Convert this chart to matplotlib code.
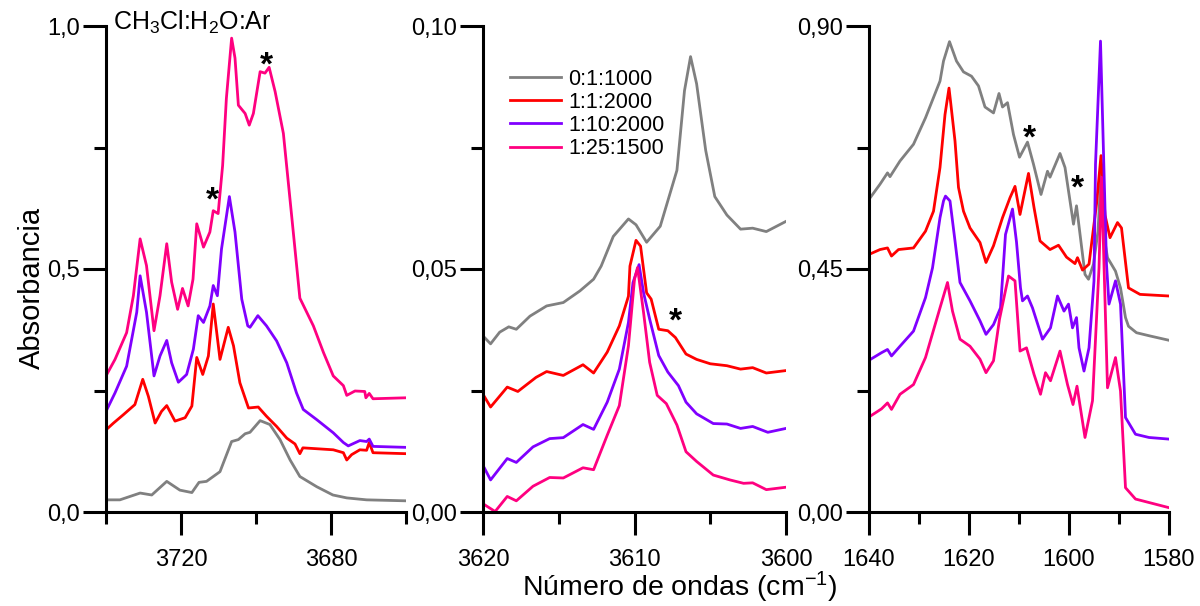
import matplotlib
matplotlib.use("Agg")
import matplotlib.pyplot as plt
from matplotlib.ticker import FixedLocator, FuncFormatter

plt.rcParams['font.family'] = ['Liberation Sans', 'DejaVu Sans']
plt.rcParams['mathtext.fontset'] = 'custom'
plt.rcParams['mathtext.rm'] = 'Liberation Sans'
plt.rcParams['mathtext.default'] = 'regular'

# ---------------- data ----------------
labels = ['0:1:1000', '1:1:2000', '1:10:2000', '1:25:1500']
colors = ['#808080', '#ff0000', '#8000ff', '#ff0080']

# Panel 1 (3740-3660 cm-1)
p1_gray_x = [3740, 3736.3, 3730.9, 3727.8, 3723.8, 3720.3, 3717.1, 3715.2, 3713.2, 3709.6, 3706.5, 3704.7,
             3702.9, 3701.6, 3698.9, 3696.3, 3693.6, 3690.9, 3688.3, 3683.8, 3679.5, 3675.8, 3670.5, 3660]
p1_gray_y = [0.025, 0.025, 0.039, 0.035, 0.063, 0.045, 0.040, 0.061, 0.063, 0.083, 0.145, 0.149,
             0.161, 0.164, 0.188, 0.180, 0.149, 0.107, 0.073, 0.052, 0.035, 0.029, 0.025, 0.023]
p1_red_x = [3740, 3738, 3735.4, 3732.3, 3730.2, 3728.7, 3726.9, 3725.2, 3723.8, 3721.6, 3718.9, 3717.1,
            3715.8, 3714.2, 3712.7, 3711.4, 3709.6, 3707.4, 3706.0, 3704.3, 3702.0, 3699.4, 3697.2,
            3694.5, 3691.8, 3689.6, 3688.3, 3687.5, 3679.4, 3676.7, 3675.8, 3674.5, 3672.3, 3670.5,
            3669.8, 3668.8, 3660]
p1_red_y = [0.169, 0.183, 0.200, 0.221, 0.273, 0.238, 0.183, 0.207, 0.219, 0.187, 0.194, 0.218,
            0.318, 0.283, 0.321, 0.428, 0.314, 0.380, 0.342, 0.266, 0.214, 0.216, 0.197,
            0.176, 0.152, 0.140, 0.120, 0.132, 0.128, 0.122, 0.107, 0.118, 0.128, 0.127,
            0.143, 0.122, 0.120]
p1_pur_x = [3740, 3737.6, 3734.5, 3731.8, 3730.9, 3729.2, 3727.2, 3725.6, 3723.8, 3722.5, 3720.7, 3718.5,
            3716.7, 3715.4, 3714.0, 3712.3, 3711.4, 3710.3, 3709.2, 3707.1, 3705.6, 3703.8, 3702.2,
            3701.6, 3699.5, 3697.2, 3694.5, 3691.8, 3689.2, 3687.4, 3683.8, 3679.4, 3676.7, 3675.4,
            3672.3, 3670.5, 3669.8, 3668.8, 3660]
p1_pur_y = [0.207, 0.245, 0.300, 0.411, 0.486, 0.411, 0.280, 0.321, 0.353, 0.307, 0.267, 0.283,
            0.335, 0.404, 0.390, 0.424, 0.466, 0.445, 0.541, 0.649, 0.576, 0.438, 0.383,
            0.380, 0.404, 0.383, 0.352, 0.307, 0.245, 0.211, 0.190, 0.163, 0.143, 0.136,
            0.147, 0.145, 0.150, 0.135, 0.133]
p1_pink_x = [3740, 3737.6, 3734.5, 3732.7, 3730.9, 3729.2, 3727.2, 3725.6, 3723.8, 3722.5, 3720.9, 3719.6,
             3718.1, 3716.8, 3715.8, 3714.0, 3712.3, 3711.4, 3710.1, 3708.9, 3707.9, 3706.5, 3705.6,
             3704.7, 3702.9, 3701.8, 3700.7, 3698.9, 3697.6, 3696.5, 3694.9, 3692.7, 3690.5, 3688.3,
             3684.7, 3682.0, 3679.4, 3676.7, 3675.8, 3673.6, 3671.0, 3670.7, 3669.8, 3668.8, 3660]
p1_pink_y = [0.280, 0.314, 0.369, 0.445, 0.562, 0.507, 0.373, 0.445, 0.552, 0.473, 0.417, 0.460,
             0.424, 0.479, 0.593, 0.545, 0.576, 0.620, 0.614, 0.713, 0.851, 0.975, 0.934,
             0.837, 0.820, 0.796, 0.820, 0.906, 0.903, 0.915, 0.865, 0.779, 0.610, 0.440,
             0.383, 0.328, 0.280, 0.260, 0.240, 0.249, 0.248, 0.235, 0.244, 0.233, 0.235]

# Panel 2 (3620-3600 cm-1)
p2_gray_x = [3619.9, 3619.5, 3618.9, 3618.3, 3617.8, 3616.9, 3615.8, 3614.7, 3613.6, 3612.7, 3612.2,
             3611.4, 3610.4, 3609.9, 3609.2, 3608.3, 3607.2, 3606.7, 3606.3, 3605.9, 3605.3, 3604.7,
             3603.9, 3603.0, 3602.2, 3601.3, 3600]
p2_gray_y = [0.0359, 0.0346, 0.0370, 0.0381, 0.0376, 0.0403, 0.0424, 0.0431, 0.0455, 0.0479, 0.0506,
             0.0567, 0.0603, 0.0591, 0.0555, 0.0588, 0.0703, 0.0867, 0.0937, 0.0881, 0.0744, 0.0649,
             0.0611, 0.0582, 0.0584, 0.0577, 0.0598]
p2_red_x = [3619.9, 3619.5, 3618.4, 3617.7, 3616.5, 3615.8, 3614.7, 3613.4, 3612.7, 3611.8, 3611.0,
            3610.4, 3610.3, 3609.9, 3609.6, 3609.2, 3608.9, 3608.4, 3607.8, 3607.3, 3606.6, 3605.9,
            3605.0, 3603.9, 3603.0, 3602.2, 3601.3, 3600]
p2_red_y = [0.0237, 0.0216, 0.0257, 0.0248, 0.0277, 0.0289, 0.0281, 0.0303, 0.0286, 0.0329, 0.0383,
            0.0444, 0.0506, 0.0559, 0.0547, 0.0451, 0.0438, 0.0376, 0.0373, 0.0359, 0.0325, 0.0314,
            0.0305, 0.0301, 0.0294, 0.0297, 0.0286, 0.0291]
p2_pur_x = [3619.9, 3619.5, 3618.4, 3617.8, 3616.7, 3615.6, 3614.7, 3613.4, 3612.7, 3611.8, 3611.0,
            3610.4, 3610.1, 3609.7, 3609.4, 3609.0, 3608.4, 3607.8, 3607.1, 3606.6, 3605.9, 3604.8,
            3603.9, 3603.0, 3602.2, 3601.2, 3600]
p2_pur_y = [0.0090, 0.0066, 0.0110, 0.0102, 0.0134, 0.0151, 0.0153, 0.0180, 0.0170, 0.0226, 0.0294,
            0.0390, 0.0472, 0.0509, 0.0451, 0.0397, 0.0322, 0.0288, 0.0260, 0.0226, 0.0202, 0.0182,
            0.0181, 0.0172, 0.0176, 0.0164, 0.0172]
p2_pink_x = [3619.9, 3619.2, 3618.4, 3617.8, 3616.7, 3615.6, 3614.7, 3613.4, 3612.7, 3611.8, 3611.0,
             3610.4, 3610.0, 3609.8, 3609.4, 3609.0, 3608.5, 3607.9, 3607.2, 3606.6, 3605.9, 3604.8,
             3603.7, 3602.8, 3602.2, 3601.3, 3600]
p2_pink_y = [0.0015, 0.0001, 0.0032, 0.0023, 0.0053, 0.0071, 0.0070, 0.0091, 0.0087, 0.0158, 0.0219,
             0.0342, 0.0479, 0.0503, 0.0410, 0.0308, 0.0240, 0.0223, 0.0179, 0.0124, 0.0104, 0.0076,
             0.0066, 0.0059, 0.0060, 0.0046, 0.0051]

# Panel 3 (1640-1580 cm-1)
p3_gray_x = [1640, 1637.8, 1636.3, 1635.8, 1633.8, 1631.1, 1628.7, 1625.8, 1625.1, 1623.9, 1622.5, 1621.1,
             1619.5, 1618.1, 1616.8, 1615.1, 1614.0, 1613.3, 1612.3, 1611.1, 1609.9, 1608.3, 1607.1,
             1605.6, 1604.3, 1603.8, 1601.8, 1600.8, 1599.1, 1598.5, 1596.8, 1596.1, 1595.1, 1594.2,
             1593.5, 1592.8, 1592.3, 1590.7, 1589.7, 1588.7, 1588.1, 1586.5, 1583.8, 1580]
p3_gray_y = [0.579, 0.607, 0.628, 0.621, 0.650, 0.681, 0.730, 0.798, 0.835, 0.871, 0.835, 0.815,
             0.807, 0.789, 0.750, 0.739, 0.775, 0.750, 0.758, 0.699, 0.657, 0.685, 0.644,
             0.588, 0.631, 0.620, 0.664, 0.638, 0.533, 0.567, 0.440, 0.431, 0.459, 0.520,
             0.640, 0.500, 0.471, 0.446, 0.415, 0.360, 0.344, 0.332, 0.326, 0.318]
p3_red_x = [1640, 1637.8, 1636.3, 1635.5, 1634.1, 1631.1, 1628.7, 1627.1, 1625.8, 1624.8, 1624.0,
            1623.7, 1622.8, 1622.1, 1621.1, 1619.8, 1617.8, 1616.6, 1615.1, 1613.3, 1611.8, 1610.8,
            1609.8, 1608.1, 1607.0, 1605.8, 1603.8, 1602.1, 1600.5, 1598.8, 1598.3, 1597.3, 1596.0,
            1594.5, 1593.6, 1592.8, 1591.8, 1590.3, 1589.5, 1588.1, 1585.8, 1580]
p3_red_y = [0.477, 0.486, 0.489, 0.474, 0.486, 0.489, 0.520, 0.557, 0.638, 0.736, 0.785,
            0.761, 0.687, 0.601, 0.557, 0.526, 0.499, 0.462, 0.493, 0.545, 0.582, 0.603,
            0.551, 0.627, 0.564, 0.502, 0.486, 0.494, 0.472, 0.460, 0.471, 0.448, 0.459,
            0.570, 0.660, 0.550, 0.508, 0.536, 0.526, 0.415, 0.403, 0.400]
p3_pur_x = [1640, 1637.5, 1636.3, 1635.5, 1633.8, 1631.1, 1628.7, 1627.3, 1625.8, 1625.1, 1624.7,
            1623.8, 1622.8, 1621.8, 1619.8, 1617.8, 1616.6, 1615.1, 1613.7, 1612.7, 1611.3, 1610.5,
            1609.7, 1609.3, 1608.3, 1607.3, 1605.3, 1603.7, 1602.3, 1601.0, 1600.1, 1599.3, 1598.5,
            1598.0, 1597.0, 1596.0, 1595.0, 1594.7, 1593.7, 1592.5, 1592.0, 1590.7, 1589.7, 1588.7,
            1586.7, 1584.0, 1580]
p3_pur_y = [0.281, 0.295, 0.301, 0.289, 0.307, 0.335, 0.397, 0.452, 0.545, 0.576, 0.585,
            0.576, 0.502, 0.425, 0.391, 0.354, 0.329, 0.347, 0.378, 0.514, 0.561, 0.500,
            0.415, 0.391, 0.400, 0.378, 0.320, 0.341, 0.400, 0.372, 0.385, 0.341, 0.360,
            0.304, 0.261, 0.304, 0.428, 0.644, 0.872, 0.459, 0.385, 0.428, 0.385, 0.175,
            0.144, 0.138, 0.135]
p3_pink_x = [1640, 1637.5, 1636.3, 1635.5, 1633.8, 1631.1, 1628.7, 1625.8, 1624.3, 1623.3, 1621.8, 1619.8,
             1617.8, 1616.6, 1615.1, 1613.9, 1612.1, 1610.8, 1609.8, 1608.5, 1607.0, 1605.7, 1604.7,
             1603.7, 1601.8, 1600.3, 1599.2, 1598.4, 1596.8, 1595.3, 1594.0, 1593.5, 1592.3, 1590.7,
             1589.7, 1588.7, 1586.7, 1580]
p3_pink_y = [0.176, 0.191, 0.202, 0.190, 0.218, 0.236, 0.286, 0.378, 0.425, 0.372, 0.320, 0.307,
             0.283, 0.258, 0.280, 0.357, 0.437, 0.428, 0.298, 0.304, 0.255, 0.218, 0.258,
             0.243, 0.298, 0.236, 0.199, 0.233, 0.138, 0.206, 0.452, 0.620, 0.230, 0.286,
             0.224, 0.045, 0.024, 0.008]

# Ticks and limits
p1_xlim = (3740, 3660); p1_ylim = (0, 1.0)
p1_xmajor = [3720, 3680]; p1_xminor = [3740, 3700, 3660]
p1_ymajor = [0, 0.5, 1.0]; p1_yminor = [0.25, 0.75]
p2_xlim = (3620, 3600); p2_ylim = (0, 0.10)
p2_xmajor = [3620, 3610, 3600]; p2_xminor = [3615, 3605]
p2_ymajor = [0, 0.05, 0.10]; p2_yminor = [0.025, 0.075]
p3_xlim = (1640, 1580); p3_ylim = (0, 0.90)
p3_xmajor = [1640, 1620, 1600, 1580]; p3_xminor = [1630, 1610, 1590]
p3_ymajor = [0, 0.45, 0.90]; p3_yminor = [0.225, 0.675]

# asterisk positions (x, y) per panel
p1_stars = [(3711.7, 0.659), (3697.1, 0.938)]
p2_stars = [(3607.3, 0.0411)]
p3_stars = [(1608.0, 0.709), (1598.4, 0.617)]

# ---------------- figure ----------------
fig = plt.figure(figsize=(12, 6.06), dpi=100)
bottom = 94 / 606
height = 486 / 606
ax1 = fig.add_axes([106 / 1200, bottom, 300 / 1200, height])
ax2 = fig.add_axes([483 / 1200, bottom, 303 / 1200, height])
ax3 = fig.add_axes([869 / 1200, bottom, 300 / 1200, height])

LW = 2.0
TICK_FS = 17


def style(ax, xlim, ylim, xmaj, xmin, ymaj, ymin, yfmt):
    ax.set_xlim(*xlim)
    ax.set_ylim(*ylim)
    ax.xaxis.set_major_locator(FixedLocator(xmaj))
    ax.xaxis.set_minor_locator(FixedLocator(xmin))
    ax.yaxis.set_major_locator(FixedLocator(ymaj))
    ax.yaxis.set_minor_locator(FixedLocator(ymin))
    ax.yaxis.set_major_formatter(FuncFormatter(lambda v, p: (yfmt % v).replace('.', ',')))
    ax.xaxis.set_major_formatter(FuncFormatter(lambda v, p: '%d' % v))
    for s in ['top', 'right']:
        ax.spines[s].set_visible(False)
    for s in ['left', 'bottom']:
        ax.spines[s].set_linewidth(2.2)
    ax.tick_params(which='major', direction='out', length=16.5, width=2.2, labelsize=TICK_FS)
    ax.tick_params(which='minor', direction='out', length=8.5, width=2.2)
    ax.tick_params(axis='x', which='major', pad=10)
    ax.tick_params(axis='y', which='major', pad=2)
    ax.patch.set_alpha(0)


def stars(ax, pts, fs=24):
    for (x, y) in pts:
        ax.annotate('*', xy=(x, y), xytext=(0, -0.55 * fs), textcoords='offset points',
                    ha='center', va='baseline', fontsize=fs, fontweight='bold', color='black')


ax1.plot(p1_gray_x, p1_gray_y, color=colors[0], lw=LW)
ax1.plot(p1_red_x, p1_red_y, color=colors[1], lw=LW)
ax1.plot(p1_pur_x, p1_pur_y, color=colors[2], lw=LW)
ax1.plot(p1_pink_x, p1_pink_y, color=colors[3], lw=LW)
style(ax1, p1_xlim, p1_ylim, p1_xmajor, p1_xminor, p1_ymajor, p1_yminor, '%.1f')
stars(ax1, p1_stars)
ax1.text(113 / 1200, 0.985, 'CH$_3$Cl:H$_2$O:Ar', transform=fig.transFigure, fontsize=18,
         ha='left', va='top')

l1, = ax2.plot(p2_gray_x, p2_gray_y, color=colors[0], lw=LW)
l2, = ax2.plot(p2_red_x, p2_red_y, color=colors[1], lw=LW)
l3, = ax2.plot(p2_pur_x, p2_pur_y, color=colors[2], lw=LW)
l4, = ax2.plot(p2_pink_x, p2_pink_y, color=colors[3], lw=LW)
style(ax2, p2_xlim, p2_ylim, p2_xmajor, p2_xminor, p2_ymajor, p2_yminor, '%.2f')
stars(ax2, p2_stars)
ax2.legend([l1, l2, l3, l4], labels, loc='upper left', bbox_to_anchor=(0.06, 0.93),
           frameon=False, fontsize=15.5, handlelength=2.4, handletextpad=0.3,
           labelspacing=0.1, borderaxespad=0.0)

ax3.plot(p3_gray_x, p3_gray_y, color=colors[0], lw=LW)
ax3.plot(p3_red_x, p3_red_y, color=colors[1], lw=LW)
ax3.plot(p3_pur_x, p3_pur_y, color=colors[2], lw=LW)
ax3.plot(p3_pink_x, p3_pink_y, color=colors[3], lw=LW)
style(ax3, p3_xlim, p3_ylim, p3_xmajor, p3_xminor, p3_ymajor, p3_yminor, '%.2f')
stars(ax3, p3_stars)

fig.text(32 / 1200, 1 - 288 / 606, 'Absorbancia', rotation=90, ha='center', va='center', fontsize=21)
fig.text(680 / 1200, 1 - 596 / 606, 'Número de ondas (cm$^{-1}$)', ha='center', va='baseline', fontsize=20.5)

fig.savefig('out.png', dpi=100)
